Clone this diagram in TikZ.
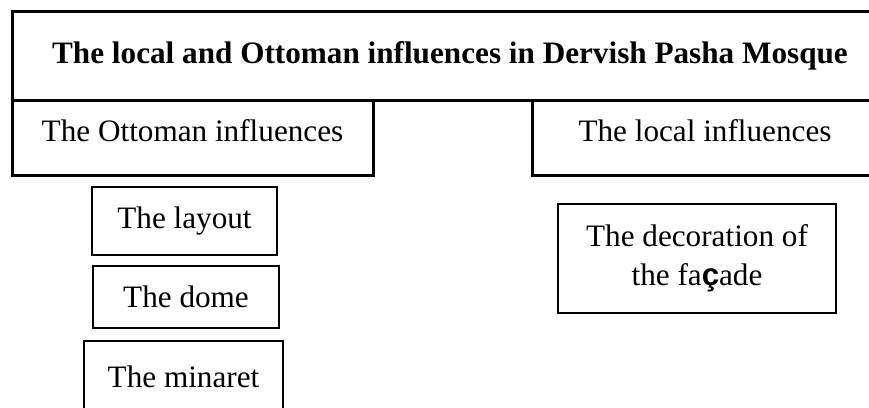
\documentclass[tikz,border=0pt]{standalone}
\usepackage{fontspec}
\setmainfont{Liberation Serif}
\setsansfont{Liberation Sans}

\begin{document}
\begin{tikzpicture}[x=1pt, y=-1pt,
    every node/.style={font=\fontsize{31.2}{39}\selectfont},
    bigbox/.style={draw, rectangle, line width=3pt, inner sep=0pt, outer sep=0pt},
    smallbox/.style={draw, rectangle, line width=2.3pt, inner sep=0pt, outer sep=0pt}]
    \useasboundingbox (0,0) rectangle (869,407);
    \clip (0,0) rectangle (869,407);

    % Heading and the two groups
    \node[bigbox, minimum width=876pt, minimum height=89pt,
        font=\fontsize{31.2}{39}\selectfont\bfseries] (title) at (450,55.5)
        {The local and Ottoman influences in Dervish Pasha Mosque};
    \node[bigbox, minimum width=361pt, minimum height=75pt, text depth=14pt]
        (ottoman) at (192.5,137.5) {The Ottoman influences};
    \node[bigbox, minimum width=346pt, minimum height=75pt, text depth=14pt]
        (local) at (705,137.5) {The local influences};

    % Ottoman items
    \node[smallbox, minimum width=185pt, minimum height=68pt] (layout) at (184.5,221) {The layout};
    \node[smallbox, minimum width=186pt, minimum height=62pt] (dome) at (186,297) {The dome};
    \node[smallbox, minimum width=199pt, minimum height=71pt] (minaret) at (183.5,376.5) {The minaret};

    % Local items
    \node[smallbox, line width=2.6pt, minimum width=278pt, minimum height=109pt, align=center]
        (facade) at (697,258.5) {The decoration of\\the fa{\sffamily\bfseries ç}ade};
\end{tikzpicture}
\end{document}
